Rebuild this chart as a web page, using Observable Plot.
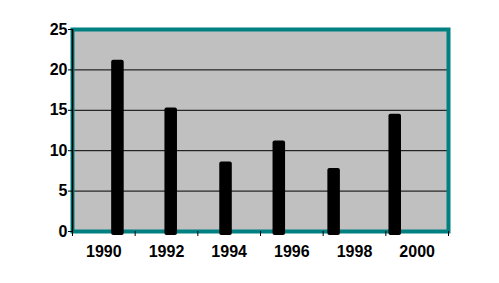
<!DOCTYPE html>
<html>
<head>
<meta charset="utf-8">
<script src="https://cdn.jsdelivr.net/npm/d3@7"></script>
<script src="https://cdn.jsdelivr.net/npm/@observablehq/plot@0.6"></script>
<style>
  html, body { margin: 0; padding: 0; background: #ffffff; }
  #chart { width: 499px; height: 283px; }
</style>
</head>
<body>
<div id="chart"></div>
<script>
// Bar positions (decimal years on the x axis) and values
const barYears = [1990.45, 1992.15, 1993.9, 1995.6, 1997.35, 1999.3];
const barValues = [21.2, 15.3, 8.6, 11.2, 7.8, 14.5];
const xLabels = [1990, 1992, 1994, 1996, 1998, 2000];
const xTickMarks = [1989, 1991, 1993, 1995, 1997, 1999, 2001];
const yTicks = [0, 5, 10, 15, 20, 25];
const gridValues = [5, 10, 15, 20];

const halfWidth = 0.2;
const data = barYears.map((yr, i) => ({x1: yr - halfWidth, x2: yr + halfWidth, value: barValues[i]}));

const font = "'Liberation Sans', Arial, sans-serif";

const chart = Plot.plot({
  width: 499,
  height: 283,
  marginLeft: 72,
  marginRight: 51,
  marginTop: 29,
  marginBottom: 52,
  style: {fontFamily: font, fontSize: "16px", fontWeight: "bold", background: "#ffffff", color: "#000"},
  x: {domain: [1989, 2001]},
  y: {domain: [0, 25]},
  marks: [
    Plot.frame({fill: "#c0c0c0"}),
    Plot.ruleY(gridValues, {stroke: "#000", strokeWidth: 1}),
    Plot.frame({stroke: "#008080", strokeWidth: 4}),
    Plot.rectY(data, {x1: "x1", x2: "x2", y: "value", fill: "#000", rx: 2, insetBottom: -4}),
    Plot.ruleX([1989], {stroke: "#000", strokeWidth: 1.5, insetLeft: -2}),
    Plot.axisY({ticks: yTicks, tickSize: 4, tickPadding: 1, label: null, fontSize: 16, fontWeight: "bold"}),
    Plot.axisX({ticks: xTickMarks, tickSize: 5, tickFormat: () => "", label: null}),
    Plot.axisX({ticks: xLabels, tickSize: 0, tickPadding: 14, tickFormat: d => String(d), label: null, fontSize: 16, fontWeight: "bold"})
  ]
});
document.getElementById("chart").appendChild(chart);
</script>
</body>
</html>
